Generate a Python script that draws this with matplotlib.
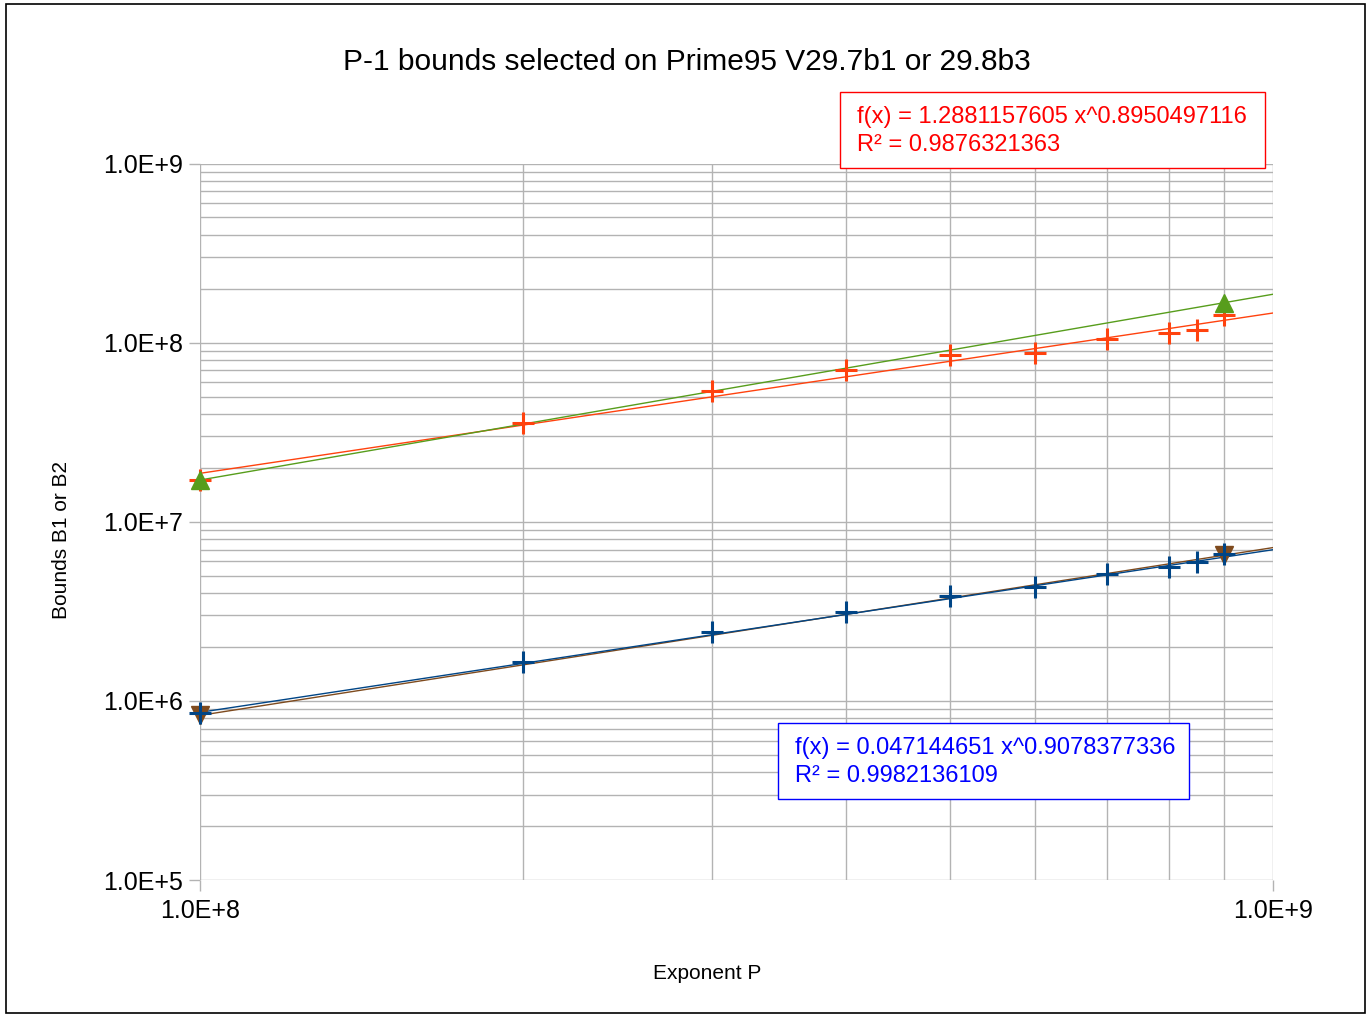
import numpy as np
import matplotlib
matplotlib.use("Agg")
import matplotlib.pyplot as plt
from matplotlib.ticker import FuncFormatter, LogLocator, NullFormatter
from matplotlib.patches import Rectangle

plt.rcParams['font.family'] = ['Liberation Sans', 'DejaVu Sans']

# exponents P
p_all = [1e8, 2e8, 3e8, 4e8, 5e8, 6e8, 7e8, 8e8, 8.5e8, 9e8]
p_ends = [1e8, 9e8]

# B2 (29.7b1) crosses, B2 (29.8b3) triangles
b2_cross = [1.71e7, 3.56e7, 5.37e7, 7.04e7, 8.54e7, 8.75e7, 1.05e8, 1.13e8, 1.18e8, 1.43e8]
b2_tri = [1.71e7, 1.67e8]

# B1 crosses / triangles
b1_cross = [8.56e5, 1.65e6, 2.43e6, 3.14e6, 3.85e6, 4.33e6, 5.11e6, 5.60e6, 5.97e6, 6.61e6]
b1_tri = [8.3e5, 6.5e6]

# trend coefficients as printed on the chart
b2_coef = (1.2881157605, 0.8950497116, 0.9876321363)
b1_coef = (0.047144651, 0.9078377336, 0.9982136109)

c_orange = '#ff420e'
c_green = '#579d1c'
c_blue = '#004586'
c_brown = '#7e4a1d'


def power_fit(x, y):
    k, b = np.polyfit(np.log10(x), np.log10(y), 1)
    return 10 ** b, k


fig = plt.figure(figsize=(13.71, 10.15), dpi=100)
ax = fig.add_axes([0.1459, 0.1330, 0.7826, 0.7059])

xs = np.logspace(8, 9, 50)

# trend lines
a, k = b2_coef[0], b2_coef[1]
ax.plot(xs, a * xs ** k, color=c_orange, lw=1.0, zorder=3)
a, k = power_fit(p_ends, b2_tri)
ax.plot(xs, a * xs ** k, color=c_green, lw=1.0, zorder=3)
a, k = power_fit(p_ends, b1_tri)
ax.plot(xs, a * xs ** k, color=c_brown, lw=1.0, zorder=3)
a, k = b1_coef[0], b1_coef[1]
ax.plot(xs, a * xs ** k, color=c_blue, lw=1.0, zorder=3)

# markers
ax.plot(p_all, b2_cross, ls='none', marker='+', ms=16, mew=2.2, color=c_orange,
        zorder=4, clip_on=False)
ax.plot(p_ends, b2_tri, ls='none', marker='^', ms=13, color=c_green, zorder=5, clip_on=False)
ax.plot(p_ends, b1_tri, ls='none', marker='v', ms=13, color=c_brown, zorder=4, clip_on=False)
ax.plot(p_all, b1_cross, ls='none', marker='+', ms=16, mew=2.2, color=c_blue,
        zorder=5, clip_on=False)

ax.set_xscale('log')
ax.set_yscale('log')
ax.set_xlim(1e8, 1e9)
ax.set_ylim(1e5, 1e9)

sci = FuncFormatter(lambda v, pos: '1.0E+%d' % round(np.log10(v)))
ax.xaxis.set_major_formatter(sci)
ax.yaxis.set_major_formatter(sci)
ax.xaxis.set_minor_locator(LogLocator(base=10, subs=np.arange(2, 10)))
ax.yaxis.set_minor_locator(LogLocator(base=10, subs=np.arange(2, 10)))
ax.xaxis.set_minor_formatter(NullFormatter())
ax.yaxis.set_minor_formatter(NullFormatter())

ax.grid(True, which='both', color='#b3b3b3', lw=1.0)
ax.set_axisbelow(True)
for s in ax.spines.values():
    s.set_visible(False)
ax.tick_params(which='major', length=8, width=1, color='#b3b3b3', labelsize=18, pad=4)
ax.tick_params(axis='x', which='major', pad=6)
ax.tick_params(which='minor', length=0)

ax.set_xlabel('Exponent P', fontsize=15)
ax.set_ylabel('Bounds B1 or B2', fontsize=15)
ax.xaxis.set_label_coords(0.473, -0.117)
ax.yaxis.set_label_coords(-0.120, 0.474)

fig.text(0.501, 0.939, 'P-1 bounds selected on Prime95 V29.7b1 or 29.8b3',
         ha='center', va='center', fontsize=21.5)

W, H = 1371.0, 1015.0


def eq_box(x0, y0, x1, y1, coef, color):
    fig.patches.append(Rectangle((x0 / W, 1 - y1 / H), (x1 - x0) / W, (y1 - y0) / H,
                                 transform=fig.transFigure, fill=True, fc='white',
                                 ec=color, lw=1.0, zorder=10))
    fig.text((x0 + 17) / W, 1 - (y0 + 25) / H,
             'f(x) = %s x^%s' % (repr(coef[0]), repr(coef[1])),
             color=color, fontsize=17, va='center', zorder=11)
    fig.text((x0 + 17) / W, 1 - (y0 + 53) / H, 'R² = %s' % repr(coef[2]),
             color=color, fontsize=17, va='center', zorder=11)


eq_box(840, 92, 1265, 168, b2_coef, '#ff0000')
eq_box(778, 723, 1189, 799, b1_coef, '#0000ff')

# outer frame
fig.patches.append(Rectangle((6 / W, 1 - 1013 / H), 1359 / W, 1009 / H,
                             transform=fig.transFigure, fill=False, ec='black', lw=1.2))

fig.savefig('out.png', dpi=100)
